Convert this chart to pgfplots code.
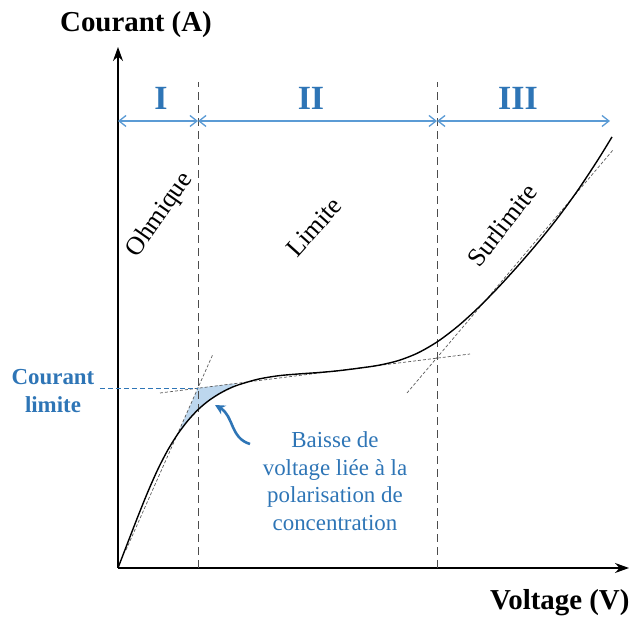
\documentclass[border=0pt]{standalone}
\usepackage{pgfplots}
\pgfplotsset{compat=1.18}
\usepackage{fontspec}
\setmainfont{Liberation Serif}
\usetikzlibrary{arrows.meta}
\definecolor{tblue}{RGB}{46,117,182}
\definecolor{lblue}{RGB}{91,155,213}
\definecolor{fblue}{RGB}{189,215,238}
\begin{document}
\begin{tikzpicture}
\begin{axis}[scale only axis, width=511bp, height=521bp,
  xmin=0, xmax=511, ymin=0, ymax=521,
  axis lines=left, ticks=none, clip=false,
  axis line style={line width=1.3bp, -{Stealth[length=14bp,width=10bp]}}]
% bounding box
\path (axis cs:-118,-49) rectangle (axis cs:516,568);
% shaded region
\addplot[draw=none, fill=fblue] coordinates {(60,135) (80,180) (120,185) (110,178.9) (100,173.5) (90,166.8) (80,158.3) (70,147.5) (60,134.3)} -- cycle;
% tangent lines
\addplot[gray!70!black, line width=0.7bp, dash pattern=on 3bp off 2bp] coordinates {(8,18) (95,214)};
\addplot[gray!70!black, line width=0.7bp, dash pattern=on 3bp off 2bp] coordinates {(42,175) (352,214)};
\addplot[gray!70!black, line width=0.7bp, dash pattern=on 3bp off 2bp] coordinates {(289,175) (495,418)};
% blue horizontal dashed
\addplot[tblue, line width=0.9bp, dash pattern=on 5bp off 3bp] coordinates {(-18,180) (80,180)};
% vertical separators
\addplot[gray!60!black, line width=1bp, dash pattern=on 8bp off 5bp] coordinates {(80,0) (80,486)};
\addplot[gray!60!black, line width=1bp, dash pattern=on 8bp off 5bp] coordinates {(319,0) (319,486)};
% main curve
\addplot[black, line width=1.4bp, smooth] coordinates {
(0,0) (10,26) (20,51.8) (30,76.5) (40,99) (50,118.3) (60,134.3) (70,147.5) (80,158.3)
(90,166.8) (100,173.5) (110,178.9) (120,183) (140,188.8) (160,192.2) (180,194)
(200,195.4) (220,197.2) (240,199.7) (260,202.6) (280,207.3) (300,215.1) (320,226.7)
(340,241.9) (360,260) (380,280.3) (400,302.2) (420,325.5) (440,350.5) (460,378)
(480,408.3) (494,431.1)};
% region arrows
\draw[lblue, line width=1.3bp, {Straight Barb[length=7bp,width=11bp]}-{Straight Barb[length=7bp,width=11bp]}] (axis cs:0,447) -- (axis cs:80,447);
\draw[lblue, line width=1.3bp, {Straight Barb[length=7bp,width=11bp]}-{Straight Barb[length=7bp,width=11bp]}] (axis cs:80,447) -- (axis cs:319,447);
\draw[lblue, line width=1.3bp, {Straight Barb[length=7bp,width=11bp]}-{Straight Barb[length=7bp,width=11bp]}] (axis cs:319,447) -- (axis cs:492,447);
\node[tblue, font=\fontsize{34}{40}\selectfont\bfseries] at (axis cs:43,470) {I};
\node[tblue, font=\fontsize{34}{40}\selectfont\bfseries] at (axis cs:193,470) {II};
\node[tblue, font=\fontsize{34}{40}\selectfont\bfseries] at (axis cs:400,470) {III};
% region labels
\node[rotate=55, font=\fontsize{26}{30}\selectfont] at (axis cs:42,353) {Ohmique};
\node[rotate=48, font=\fontsize{26}{30}\selectfont] at (axis cs:196,341) {Limite};
\node[rotate=52, font=\fontsize{26}{30}\selectfont] at (axis cs:384,343) {Surlimite};
% courant limite
\node[tblue, align=center, font=\fontsize{23}{28}\selectfont\bfseries] at (axis cs:-65,177) {Courant\\limite};
% annotation
\draw[tblue, line width=2.6bp, -{Stealth[length=10bp,width=10bp]}] (axis cs:132,124) .. controls (axis cs:112,130) and (axis cs:116,152) .. (axis cs:97,163);
\node[tblue, align=center, font=\fontsize{23}{27.7}\selectfont] at (axis cs:217,87) {Baisse de\\voltage liée à la\\polarisation de\\concentration};
% axis titles
\node[font=\fontsize{29}{34}\selectfont\bfseries] at (axis cs:18,543) {Courant (A)};
\node[anchor=east, font=\fontsize{29}{34}\selectfont\bfseries] at (axis cs:515,-35) {Voltage (V)};
\end{axis}
\end{tikzpicture}
\end{document}
